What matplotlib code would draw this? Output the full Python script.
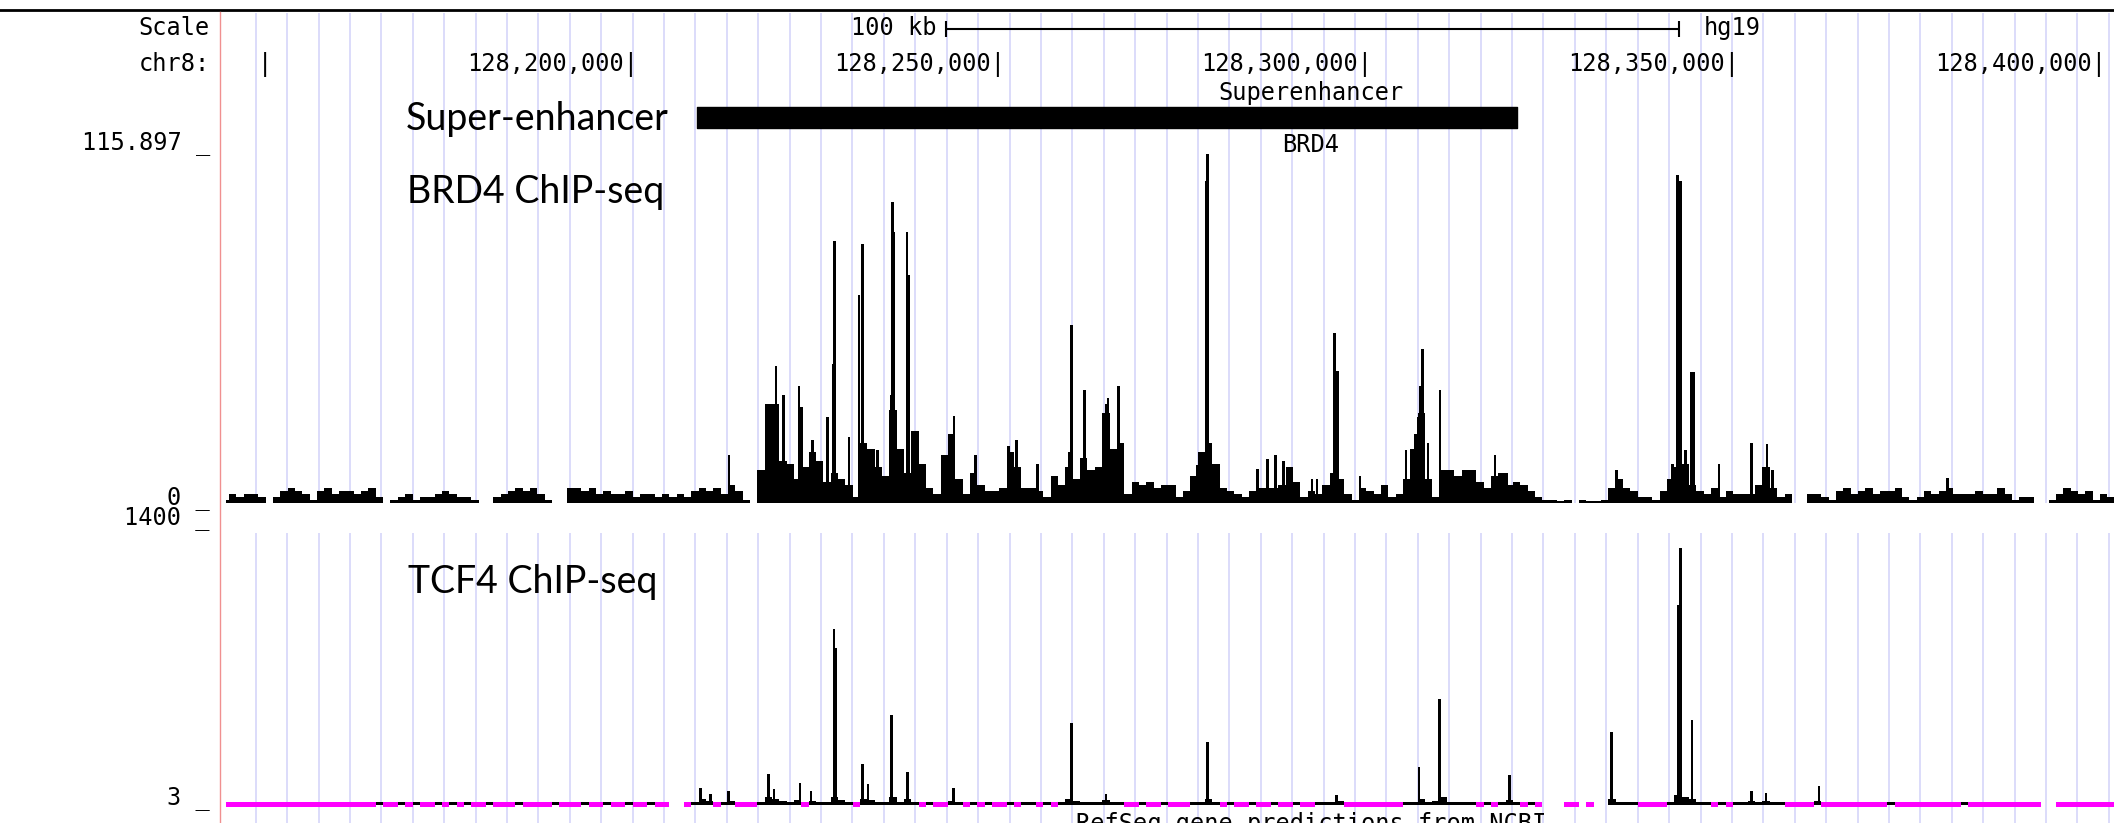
import numpy as np
import matplotlib
matplotlib.use("Agg")
import matplotlib.pyplot as plt
from matplotlib.transforms import offset_copy

# genomic window shown (kb on chr8, hg19)
view_kb = [128144.58, 128401.91]

tick_kb = [128150, 128200, 128250, 128300, 128350, 128400]
tick_labels = ["", "128,200,000", "128,250,000", "128,300,000", "128,350,000", "128,400,000"]

scale_bar_kb = [128242.65, 128342.65]
superenhancer_kb = [128208.8, 128320.5]

brd4_max = 115.897
tcf4_lo = 3
tcf4_hi = 1400

# 1 kb bins, first bin starts at 128140 kb
bin_start_kb = 128140

brd4_bins = [
    0, 0, 0, 0, 1, 3, 2, 3, 3, 2,            # 128140
    0, 2, 4, 5, 4, 3, 1, 4, 5, 3,            # 128150
    4, 4, 3, 4, 5, 2, 0, 1, 2, 3,            # 128160
    1, 2, 2, 3, 4, 3, 2, 2, 1, 0,            # 128170
    0, 2, 3, 4, 5, 4, 5, 3, 1, 0,            # 128180
    0, 5, 5, 4, 5, 3, 4, 3, 3, 4,            # 128190
    2, 3, 3, 2, 3, 2, 3, 2, 4, 5,            # 128200
    4, 5, 3, 6, 4, 1, 0, 11, 33, 33,         # 128210
    14, 13, 8, 12, 17, 14, 7, 10, 8, 6,      # 128220
    2, 20, 18, 12, 9, 31, 18, 10, 24, 13,    # 128230
    5, 3, 16, 23, 8, 3, 10, 6, 4, 4,         # 128240
    5, 17, 12, 5, 5, 4, 2, 9, 6, 12,         # 128250
    8, 15, 11, 12, 30, 18, 20, 3, 7, 6,      # 128260
    7, 5, 6, 6, 2, 4, 9, 17, 20, 13,         # 128270
    5, 4, 3, 2, 4, 5, 5, 5, 6, 12,           # 128280
    7, 2, 4, 3, 6, 10, 8, 3, 1, 5,           # 128290
    4, 3, 6, 2, 3, 8, 18, 30, 8, 2,          # 128300
    11, 11, 9, 11, 11, 7, 5, 9, 10, 6,       # 128310
    7, 6, 4, 2, 1, 1, 0.5, 1, 0, 1,          # 128320
    0.5, 0.5, 1, 5, 8, 5, 4, 2, 2, 1,        # 128330
    4, 8, 12, 13, 6, 4, 3, 5, 2, 4,          # 128340
    3, 3, 3, 6, 12, 5, 2, 3, 0, 0,           # 128350
    3, 3, 2, 1, 4, 5, 3, 4, 5, 3,            # 128360
    4, 4, 5, 2, 1, 2, 4, 3, 4, 5,            # 128370
    3, 3, 3, 4, 3, 3, 5, 3, 1, 2,            # 128380
    2, 0, 0, 1, 3, 5, 4, 3, 4, 1,            # 128390
    3, 2,                                    # 128400
]

# narrow BRD4 spikes on top of the binned signal
brd4_spike_kb = [
    128213.15, 128219.55, 128220.55, 128222.7, 128223.05, 128224.5, 128226.6,
    128227.35, 128227.5, 128229.5, 128230.85, 128231.3, 128233.4, 128235.2,
    128235.45, 128235.6, 128237.4, 128237.65, 128243.8, 128246.7, 128251.2,
    128252.3, 128255.2, 128259.5, 128259.85, 128261.6, 128264.5, 128264.8,
    128266.25, 128276.9, 128278.15, 128278.35, 128285.2, 128286.5, 128287.6,
    128288.7, 128292.6, 128293.3, 128295.7, 128296.05, 128299.15, 128305.4,
    128306.7, 128307.1, 128307.35, 128307.65, 128308.4, 128310.05, 128317.55,
    128319.1, 128334.1, 128341.7, 128342.45, 128342.85, 128343.5, 128344.3,
    128344.6, 128348.1, 128352.5, 128354.6, 128355.4, 128379.2,
]
brd4_spike_val = [
    16, 45.5, 35.8, 39, 32, 21, 28.6,
    46, 87, 22, 69, 86, 17.5, 36,
    100, 90, 90, 75.6, 29, 16, 19,
    21, 13, 17, 59, 37.6, 33, 35,
    39, 12.5, 107, 115.9, 11.4, 14.7, 15.8,
    14, 8, 8, 56.5, 44, 9, 17.5,
    23, 28.6, 39, 51, 20, 37.4, 15.8,
    10, 11, 13, 109, 107, 17.5, 43.5,
    43.5, 13, 20, 19.5, 11, 8.4,
]

# TCF4 1 kb bins: 0 = no data, below 3 = clipped (drawn magenta)
tcf4_bins = [
    0, 0, 0, 0, 1, 1, 1, 1, 1, 1,            # 128140
    1, 1, 1, 1, 1, 1, 1, 1, 1, 1,            # 128150
    1, 1, 1, 1, 1, 15, 1, 1, 15, 1,          # 128160
    15, 1, 1, 15, 1, 15, 1, 15, 1, 1,        # 128170
    15, 1, 1, 1, 15, 1, 1, 1, 1, 15,         # 128180
    1, 1, 1, 15, 1, 1, 15, 1, 1, 15,         # 128190
    1, 1, 15, 1, 1, 0, 0, 1, 15, 30,         # 128200
    20, 1, 15, 20, 1, 1, 1, 15, 40, 30,      # 128210
    20, 15, 25, 1, 20, 15, 15, 40, 25, 15,   # 128220
    1, 30, 25, 15, 15, 40, 15, 30, 15, 1,    # 128230
    15, 1, 1, 20, 15, 1, 15, 1, 15, 1,       # 128240
    1, 15, 1, 15, 15, 1, 15, 1, 15, 30,      # 128250
    20, 15, 15, 15, 25, 15, 15, 1, 1, 15,    # 128260
    1, 1, 15, 1, 1, 1, 15, 15, 30, 15,       # 128270
    1, 15, 1, 1, 15, 1, 1, 15, 1, 1,         # 128280
    15, 1, 1, 15, 15, 15, 20, 1, 1, 1,       # 128290
    1, 1, 1, 1, 1, 15, 15, 30, 15, 20,       # 128300
    40, 15, 15, 15, 15, 1, 15, 1, 15, 25,    # 128310
    15, 1, 15, 1, 0, 0, 0, 1, 1, 0,          # 128320
    1, 0, 0, 30, 15, 15, 15, 1, 1, 1,        # 128330
    1, 15, 50, 40, 30, 15, 15, 1, 15, 1,     # 128340
    15, 15, 20, 15, 20, 15, 15, 1, 1, 1,     # 128350
    1, 20, 1, 1, 1, 1, 1, 1, 1, 1,           # 128360
    1, 15, 1, 1, 1, 1, 1, 1, 1, 1,           # 128370
    1, 15, 1, 1, 1, 1, 1, 1, 1, 1,           # 128380
    1, 1, 0, 0, 1, 1, 1, 1, 1, 1,            # 128390
    1, 1,                                    # 128400
]

tcf4_peak_kb = [
    128209.25, 128210.65, 128213.1, 128218.5, 128219.3, 128222.8, 128224.3,
    128227.45, 128227.7, 128231.3, 128232.1, 128235.26, 128237.5, 128243.7,
    128259.8, 128264.5, 128278.35, 128295.9, 128307.2, 128310.0, 128319.5,
    128333.4, 128342.55, 128342.8, 128344.4, 128352.5, 128354.5, 128361.7,
]
tcf4_peak_val = [
    84, 53, 70, 154, 79, 112, 67,
    894, 793, 205, 104, 457, 168, 82,
    415, 53, 316, 50, 193, 534, 151,
    369, 1016, 1303, 428, 67, 58, 92,
]


def main():
    W, H = 2114, 823
    mono = "DejaVu Sans Mono"
    big = "Lato"
    guide_col = "#dcdcfa"

    fig = plt.figure(figsize=(W / 100, H / 100), dpi=100)
    fig.patch.set_facecolor("white")

    left = 226 / W
    width = 1 - left

    def fy(y):
        return 1 - y / H

    # background axes: genomic x, pixel rows y
    bg = fig.add_axes([left, 0, width, 1])
    bg.set_xlim(*view_kb)
    bg.set_ylim(H, 0)
    bg.axis("off")

    guides = np.arange(128148.63, view_kb[1], 4.281)
    bg.vlines(guides, 13, 503, colors=guide_col, lw=1.4, zorder=0)
    bg.vlines(guides, 533, H, colors=guide_col, lw=1.4, zorder=0)

    # ruler
    tick_tr = offset_copy(bg.transData, fig=fig, x=6, y=0, units="dots")
    for tk, lab in zip(tick_kb, tick_labels):
        bg.text(tk, 64, lab + "|", transform=tick_tr, ha="right", va="center",
                family=mono, fontsize=17)

    bg.hlines(29, scale_bar_kb[0], scale_bar_kb[1], color="black", lw=1.5)
    bg.vlines(scale_bar_kb, 21, 37, color="black", lw=1.5)
    bg.text(scale_bar_kb[0], 28, "100 kb", ha="right", va="center", family=mono, fontsize=17,
            transform=offset_copy(bg.transData, fig=fig, x=-9, y=0, units="dots"))
    bg.text(scale_bar_kb[1], 28, "hg19", ha="left", va="center", family=mono, fontsize=17,
            transform=offset_copy(bg.transData, fig=fig, x=25, y=0, units="dots"))

    # super-enhancer bed track
    bg.broken_barh([(superenhancer_kb[0], superenhancer_kb[1] - superenhancer_kb[0])],
                   (107, 21), color="black")

    label_center = 128292.46
    bg.text(label_center, 93, "Superenhancer", ha="center", va="center", family=mono, fontsize=17)
    bg.text(label_center, 145, "BRD4", ha="center", va="center", family=mono, fontsize=17)
    bg.text(label_center, 824, "RefSeq gene predictions from NCBI", ha="center", va="center",
            family=mono, fontsize=17)

    # BRD4 track
    ax1 = fig.add_axes([left, fy(503), width, 349 / H])
    ax1.set_xlim(*view_kb)
    ax1.set_ylim(0, brd4_max)
    ax1.set_facecolor("none")
    ax1.axis("off")
    pos = bin_start_kb + np.arange(len(brd4_bins))
    ax1.bar(pos, brd4_bins, width=1.0, align="edge", color="black", linewidth=0, antialiased=False)
    ax1.bar(brd4_spike_kb, brd4_spike_val, width=0.35, color="black", linewidth=0, antialiased=False)

    # TCF4 track
    ax2 = fig.add_axes([left, fy(812), width, (812 - 529) / H])
    ax2.set_xlim(*view_kb)
    ax2.set_ylim(-37.6, tcf4_hi)
    ax2.set_facecolor("none")
    ax2.axis("off")
    tcf = np.array(tcf4_bins, dtype=float)
    pos = bin_start_kb + np.arange(len(tcf))
    low = (tcf > 0) & (tcf < tcf4_lo)
    high = tcf >= tcf4_lo
    ax2.bar(pos[low], 27, bottom=-12, width=1.0, align="edge", color="#ff00ff",
            linewidth=0, antialiased=False)
    ax2.bar(pos[high], tcf[high] + 2, bottom=-2, width=1.0, align="edge", color="black",
            linewidth=0, antialiased=False)
    ax2.bar(tcf4_peak_kb, np.array(tcf4_peak_val) - tcf4_lo, bottom=tcf4_lo, width=0.35,
            color="black", linewidth=0, antialiased=False)

    # left labels
    for y, s in [(28, "Scale"), (64, "chr8:"), (143, "115.897 _"), (498, "0 _"),
                 (518, "1400 _"), (798, "3 _")]:
        fig.text(210 / W, fy(y), s, ha="right", va="center", family=mono, fontsize=17)

    # annotation labels
    fig.text(406 / W, fy(130), "Super-enhancer", family=big, fontsize=27, va="baseline")
    fig.text(407 / W, fy(203), "BRD4 ChIP-seq", family=big, fontsize=27, va="baseline")
    fig.text(408 / W, fy(593), "TCF4 ChIP-seq", family=big, fontsize=27, va="baseline")

    # frame lines
    fig.add_artist(plt.Line2D([0, 1], [fy(10), fy(10)], color="black", lw=2))
    fig.add_artist(plt.Line2D([219.5 / W, 219.5 / W], [fy(12), 0], color="#f09090", lw=1))

    fig.savefig("out.png", dpi=100)


if __name__ == "__main__":
    main()
